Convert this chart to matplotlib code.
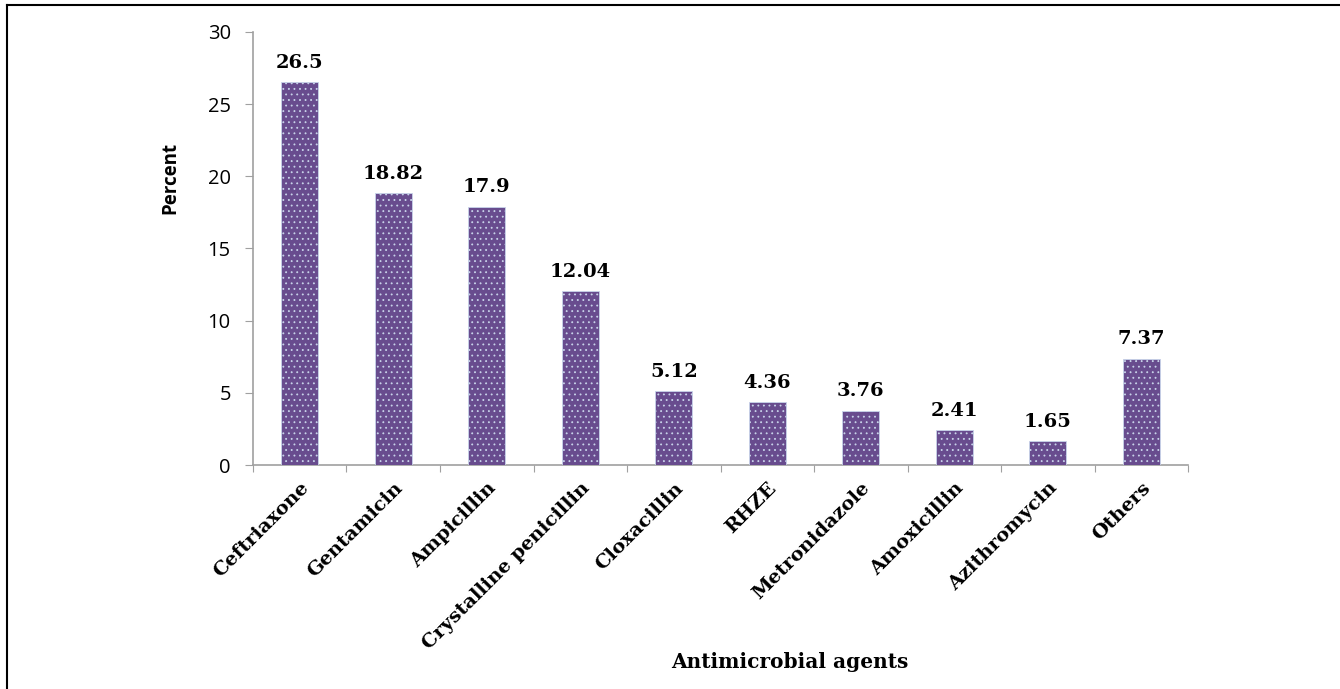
import matplotlib.pyplot as plt
from matplotlib.lines import Line2D
import numpy as np

# antimicrobial agents prescribed, percent of prescriptions
agents = ["Ceftriaxone", "Gentamicin", "Ampicillin", "Crystalline penicillin",
          "Cloxacillin", "RHZE", "Metronidazole", "Amoxicillin",
          "Azithromycin", "Others"]
percent = [26.5, 18.82, 17.9, 12.04, 5.12, 4.36, 3.76, 2.41, 1.65, 7.37]
value_labels = ["26.5", "18.82", "17.9", "12.04", "5.12", "4.36", "3.76",
                "2.41", "1.65", "7.37"]
y_ticks = [0, 5, 10, 15, 20, 25, 30]

BAR = "#684c8e"
DOTS = "#9a86b8"
AXIS = "#a0a0a0"
SERIF = ["DejaVu Serif"]
SANS = ["Open Sans", "DejaVu Sans"]

plt.rcParams["hatch.color"] = DOTS
plt.rcParams["hatch.linewidth"] = 0.6

fig = plt.figure(figsize=(13.4, 6.89), dpi=100)
ax = fig.add_axes([0.1888, 0.3251, 0.6978, 0.6285])

x = np.arange(len(agents))
ax.bar(x, percent, width=0.4, color=BAR, edgecolor="#c8d4ea",
       linewidth=0.6, hatch="...", zorder=3)

for xi, v, lab in zip(x, percent, value_labels):
    ax.text(xi, v + 1.0, lab, ha="center", va="baseline", fontsize=14,
            fontweight="bold", family=SERIF, color="black")

ax.set_xlim(-0.5, len(agents) - 0.5)
ax.set_ylim(0, 30)
ax.set_yticks(y_ticks)
ax.set_yticklabels([str(t) for t in y_ticks], family=SANS, fontsize=14.5)

# category ticks sit between the bars, names under the bars
ax.set_xticks(np.arange(len(agents) + 1) - 0.5)
ax.set_xticklabels([])
ax.set_xticks(x, minor=True)
ax.set_xticklabels(agents, minor=True, rotation=45, ha="right",
                   rotation_mode="anchor", family=SERIF, fontsize=14,
                   fontweight="bold")
ax.tick_params(axis="x", which="minor", length=0, pad=10)
ax.tick_params(axis="x", which="major", length=5, color=AXIS, direction="out")
ax.tick_params(axis="y", length=6, color=AXIS, direction="out", pad=10)

for side in ("top", "right"):
    ax.spines[side].set_visible(False)
for side in ("left", "bottom"):
    ax.spines[side].set_color(AXIS)
    ax.spines[side].set_linewidth(1.2)

ax.set_ylabel("Percent", family=SANS, fontsize=13.5, fontweight="bold",
              va="center")
ax.yaxis.set_label_coords(-0.0888, 0.663)
ax.set_xlabel("Antimicrobial agents", family=SERIF, fontsize=14.5,
              fontweight="bold", va="center")
ax.xaxis.set_label_coords(0.574, -0.455)

# frame lines along the top and left edge of the figure
fig.add_artist(Line2D([7 / 1340, 7 / 1340], [0, 1 - 5 / 689], color="black",
                      linewidth=1.5, transform=fig.transFigure))
fig.add_artist(Line2D([7 / 1340, 1], [1 - 5 / 689, 1 - 5 / 689], color="black",
                      linewidth=1.5, transform=fig.transFigure))

fig.savefig("out.png", dpi=100, facecolor="white")
